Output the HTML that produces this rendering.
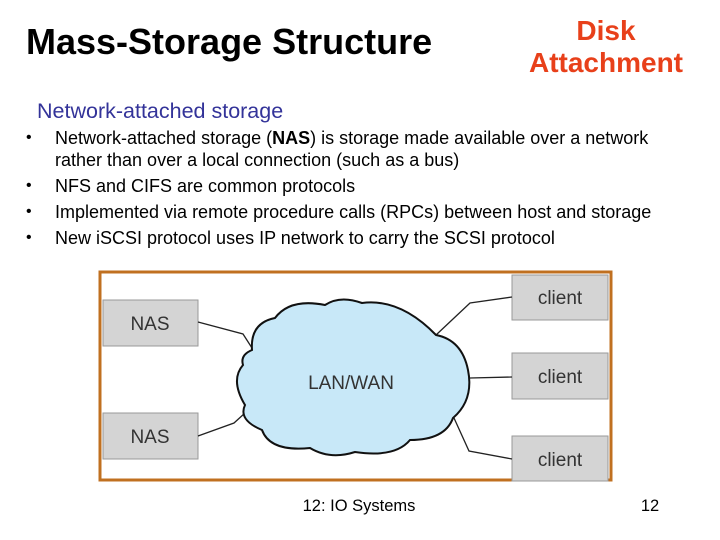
<!DOCTYPE html>
<html><head><meta charset="utf-8"><style>
body{margin:0;width:720px;height:540px;background:#fff;position:relative;overflow:hidden;font-family:"Liberation Sans",sans-serif;}
.t{position:absolute;white-space:nowrap;}
.b{position:absolute;left:26px;font-size:16px;}
.l{position:absolute;left:55px;font-size:18px;white-space:nowrap;}
</style></head><body>
<div class="t" style="left:26px;top:21px;font-size:36px;font-weight:bold;">Mass-Storage Structure</div>
<div class="t" style="left:516px;top:15px;width:180px;text-align:center;font-size:28px;font-weight:bold;color:#e8401a;line-height:32px;">Disk<br>Attachment</div>
<div class="t" style="left:37px;top:99px;font-size:21.5px;color:#333399;">Network-attached storage</div>
<div class="b" style="top:129px">•</div><div class="l" style="top:128px">Network-attached storage (<b>NAS</b>) is storage made available over a network</div>
<div class="l" style="top:150px">rather than over a local connection (such as a bus)</div>
<div class="b" style="top:177px">•</div><div class="l" style="top:176px">NFS and CIFS are common protocols</div>
<div class="b" style="top:203px">•</div><div class="l" style="top:202px">Implemented via remote procedure calls (RPCs) between host and storage</div>
<div class="b" style="top:229px">•</div><div class="l" style="top:228px">New iSCSI protocol uses IP network to carry the SCSI protocol</div>
<svg width="720" height="540" style="position:absolute;left:0;top:0">
<rect x="100" y="272" width="511" height="208" fill="#fff" stroke="#c07020" stroke-width="3"/>
<g fill="#d4d4d4" stroke="#999" stroke-width="1">
<rect x="103" y="300" width="95" height="46"/><rect x="103" y="413" width="95" height="46"/>
<rect x="512" y="275" width="96" height="45"/><rect x="512" y="353" width="96" height="46"/><rect x="512" y="436" width="96" height="45"/>
</g>
<g fill="none" stroke="#222" stroke-width="1.3">
<polyline points="198,322 243,334 252,348"/><polyline points="198,436 234,423 245,413"/>
<polyline points="512,297 470,303 436,335"/><polyline points="512,377 470,378"/><polyline points="512,459 469,451 454,418"/>
</g>
<path d="M252,350 Q250,323 275,318 Q290,298 325,305 Q340,295 362,303 Q400,298 436,335 Q462,340 468,370 Q474,400 453,418 Q445,440 410,440 Q395,458 355,452 Q330,460 310,448 Q270,452 262,430 Q238,420 245,405 Q230,380 243,365 Q240,355 252,350 Z" fill="#c8e8f8" stroke="#111" stroke-width="2"/>
<g font-family="Liberation Sans,sans-serif" font-size="19" fill="#333">
<text x="150" y="330" text-anchor="middle">NAS</text><text x="150" y="443" text-anchor="middle">NAS</text>
<text x="560" y="304" text-anchor="middle">client</text><text x="560" y="383" text-anchor="middle">client</text><text x="560" y="466" text-anchor="middle">client</text>
<text x="351" y="389" text-anchor="middle">LAN/WAN</text>
</g>
<g font-family="Liberation Sans,sans-serif" font-size="16.5" fill="#000">
<text x="359" y="511" text-anchor="middle">12: IO Systems</text><text x="650" y="511" text-anchor="middle">12</text>
</g>
</svg>
</body></html>
